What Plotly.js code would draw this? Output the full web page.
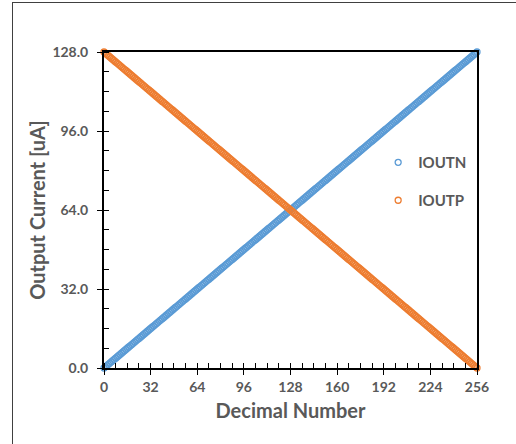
<!DOCTYPE html>
<html>
<head>
<meta charset="utf-8">
<script src="https://cdn.plot.ly/plotly-3.0.1.min.js"></script>
<style>
  html, body { margin: 0; padding: 0; background: #fff; overflow: hidden; }
  #frame { position: absolute; left: 12px; top: 2px; width: 700px; height: 700px;
           border-left: 1px solid #404040; border-top: 1px solid #404040; pointer-events: none; }
  #chart { position: absolute; left: 0; top: 0; width: 516px; height: 444px; }
</style>
</head>
<body>
<div id="chart"></div>
<div id="frame"></div>
<script>
// Decimal input code
const decimalNumber = [
  0,1,2,3,4,5,6,7,8,9,10,11,12,13,14,15,
  16,17,18,19,20,21,22,23,24,25,26,27,28,29,30,31,
  32,33,34,35,36,37,38,39,40,41,42,43,44,45,46,47,
  48,49,50,51,52,53,54,55,56,57,58,59,60,61,62,63,
  64,65,66,67,68,69,70,71,72,73,74,75,76,77,78,79,
  80,81,82,83,84,85,86,87,88,89,90,91,92,93,94,95,
  96,97,98,99,100,101,102,103,104,105,106,107,108,109,110,111,
  112,113,114,115,116,117,118,119,120,121,122,123,124,125,126,127,
  128,129,130,131,132,133,134,135,136,137,138,139,140,141,142,143,
  144,145,146,147,148,149,150,151,152,153,154,155,156,157,158,159,
  160,161,162,163,164,165,166,167,168,169,170,171,172,173,174,175,
  176,177,178,179,180,181,182,183,184,185,186,187,188,189,190,191,
  192,193,194,195,196,197,198,199,200,201,202,203,204,205,206,207,
  208,209,210,211,212,213,214,215,216,217,218,219,220,221,222,223,
  224,225,226,227,228,229,230,231,232,233,234,235,236,237,238,239,
  240,241,242,243,244,245,246,247,248,249,250,251,252,253,254,255,
  256
];
// Output current, uA
const ioutn = [
  0,0.5,1,1.5,2,2.5,3,3.5,4,4.5,5,5.5,6,6.5,7,7.5,
  8,8.5,9,9.5,10,10.5,11,11.5,12,12.5,13,13.5,14,14.5,15,15.5,
  16,16.5,17,17.5,18,18.5,19,19.5,20,20.5,21,21.5,22,22.5,23,23.5,
  24,24.5,25,25.5,26,26.5,27,27.5,28,28.5,29,29.5,30,30.5,31,31.5,
  32,32.5,33,33.5,34,34.5,35,35.5,36,36.5,37,37.5,38,38.5,39,39.5,
  40,40.5,41,41.5,42,42.5,43,43.5,44,44.5,45,45.5,46,46.5,47,47.5,
  48,48.5,49,49.5,50,50.5,51,51.5,52,52.5,53,53.5,54,54.5,55,55.5,
  56,56.5,57,57.5,58,58.5,59,59.5,60,60.5,61,61.5,62,62.5,63,63.5,
  64,64.5,65,65.5,66,66.5,67,67.5,68,68.5,69,69.5,70,70.5,71,71.5,
  72,72.5,73,73.5,74,74.5,75,75.5,76,76.5,77,77.5,78,78.5,79,79.5,
  80,80.5,81,81.5,82,82.5,83,83.5,84,84.5,85,85.5,86,86.5,87,87.5,
  88,88.5,89,89.5,90,90.5,91,91.5,92,92.5,93,93.5,94,94.5,95,95.5,
  96,96.5,97,97.5,98,98.5,99,99.5,100,100.5,101,101.5,102,102.5,103,103.5,
  104,104.5,105,105.5,106,106.5,107,107.5,108,108.5,109,109.5,110,110.5,111,111.5,
  112,112.5,113,113.5,114,114.5,115,115.5,116,116.5,117,117.5,118,118.5,119,119.5,
  120,120.5,121,121.5,122,122.5,123,123.5,124,124.5,125,125.5,126,126.5,127,127.5,
  128
];
const ioutp = [
  128,127.5,127,126.5,126,125.5,125,124.5,124,123.5,123,122.5,122,121.5,121,120.5,
  120,119.5,119,118.5,118,117.5,117,116.5,116,115.5,115,114.5,114,113.5,113,112.5,
  112,111.5,111,110.5,110,109.5,109,108.5,108,107.5,107,106.5,106,105.5,105,104.5,
  104,103.5,103,102.5,102,101.5,101,100.5,100,99.5,99,98.5,98,97.5,97,96.5,
  96,95.5,95,94.5,94,93.5,93,92.5,92,91.5,91,90.5,90,89.5,89,88.5,
  88,87.5,87,86.5,86,85.5,85,84.5,84,83.5,83,82.5,82,81.5,81,80.5,
  80,79.5,79,78.5,78,77.5,77,76.5,76,75.5,75,74.5,74,73.5,73,72.5,
  72,71.5,71,70.5,70,69.5,69,68.5,68,67.5,67,66.5,66,65.5,65,64.5,
  64,63.5,63,62.5,62,61.5,61,60.5,60,59.5,59,58.5,58,57.5,57,56.5,
  56,55.5,55,54.5,54,53.5,53,52.5,52,51.5,51,50.5,50,49.5,49,48.5,
  48,47.5,47,46.5,46,45.5,45,44.5,44,43.5,43,42.5,42,41.5,41,40.5,
  40,39.5,39,38.5,38,37.5,37,36.5,36,35.5,35,34.5,34,33.5,33,32.5,
  32,31.5,31,30.5,30,29.5,29,28.5,28,27.5,27,26.5,26,25.5,25,24.5,
  24,23.5,23,22.5,22,21.5,21,20.5,20,19.5,19,18.5,18,17.5,17,16.5,
  16,15.5,15,14.5,14,13.5,13,12.5,12,11.5,11,10.5,10,9.5,9,8.5,
  8,7.5,7,6.5,6,5.5,5,4.5,4,3.5,3,2.5,2,1.5,1,0.5,
  0
];
const xTicks = [0,32,64,96,128,160,192,224,256];
const yTicks = [0,32,64,96,128];
const seriesNames = ['IOUTN','IOUTP'];

const BLUE = '#5B9BD5', ORANGE = '#ED7D31', GRAY = '#595959';
const FONT = 'Lato, "Open Sans", sans-serif';

const traces = [
  { x: decimalNumber, y: ioutn, name: seriesNames[0], type: 'scatter', mode: 'markers',
    cliponaxis: false, legend: 'legend',
    marker: { symbol: 'circle-open', size: 6, color: BLUE, line: { width: 1.3, color: BLUE } } },
  { x: decimalNumber, y: ioutp, name: seriesNames[1], type: 'scatter', mode: 'markers',
    cliponaxis: false, legend: 'legend2',
    marker: { symbol: 'circle-open', size: 6, color: ORANGE, line: { width: 1.3, color: ORANGE } } }
];

const tickFont = { family: FONT, size: 14, color: GRAY, weight: 'bold' };
const titleFont = { family: FONT, size: 20, color: GRAY, weight: 'bold' };
const legFont = { family: FONT, size: 15, color: GRAY, weight: 'bold' };

const layout = {
  width: 516, height: 444,
  margin: { l: 104, r: 39, t: 52, b: 76 },
  paper_bgcolor: 'rgba(0,0,0,0)', plot_bgcolor: '#fff',
  showlegend: true,
  xaxis: {
    range: [0, 256], tickmode: 'array', tickvals: xTicks, ticktext: xTicks.map(String),
    showgrid: false, zeroline: false,
    showline: true, linecolor: '#000', linewidth: 2, mirror: true,
    ticks: 'outside', ticklen: 5, tickwidth: 1, tickcolor: '#000',
    minor: { tickmode: 'linear', tick0: 0, dtick: 8, ticks: 'inside', ticklen: 5, tickwidth: 1, tickcolor: '#000', showgrid: false },
    tickfont: tickFont, ticklabelstandoff: 0,
    title: { text: 'Decimal Number', font: titleFont, standoff: 10 }
  },
  yaxis: {
    range: [0, 128], tickmode: 'array', tickvals: yTicks, ticktext: yTicks.map(v => v.toFixed(1)),
    showgrid: false, zeroline: false,
    showline: true, linecolor: '#000', linewidth: 2, mirror: true,
    ticks: 'outside', ticklen: 5, tickwidth: 1, tickcolor: '#000',
    minor: { tickmode: 'linear', tick0: 0, dtick: 8, ticks: 'inside', ticklen: 5, tickwidth: 1, tickcolor: '#000', showgrid: false },
    tickfont: tickFont, ticklabelstandoff: 6,
    title: { text: 'Output Current [uA]', font: titleFont, standoff: 1 }
  },
  xaxis2: {
    overlaying: 'x', range: [0, 256], tickmode: 'array', tickvals: xTicks, showticklabels: false,
    showgrid: false, zeroline: false, showline: false,
    ticks: 'inside', ticklen: 5, tickwidth: 1, tickcolor: '#000'
  },
  yaxis2: {
    overlaying: 'y', range: [0, 128], tickmode: 'array', tickvals: yTicks, showticklabels: false,
    showgrid: false, zeroline: false, showline: false,
    ticks: 'inside', ticklen: 5, tickwidth: 1, tickcolor: '#000'
  },
  legend: {
    x: 0.735, y: 0.65, xanchor: 'left', yanchor: 'middle',
    bgcolor: 'rgba(0,0,0,0)', font: legFont, itemwidth: 30
  },
  legend2: {
    x: 0.735, y: 0.53, xanchor: 'left', yanchor: 'middle',
    bgcolor: 'rgba(0,0,0,0)', font: legFont, itemwidth: 30
  }
};

Plotly.newPlot('chart', traces, layout, { displayModeBar: false, staticPlot: true });
</script>
</body>
</html>
